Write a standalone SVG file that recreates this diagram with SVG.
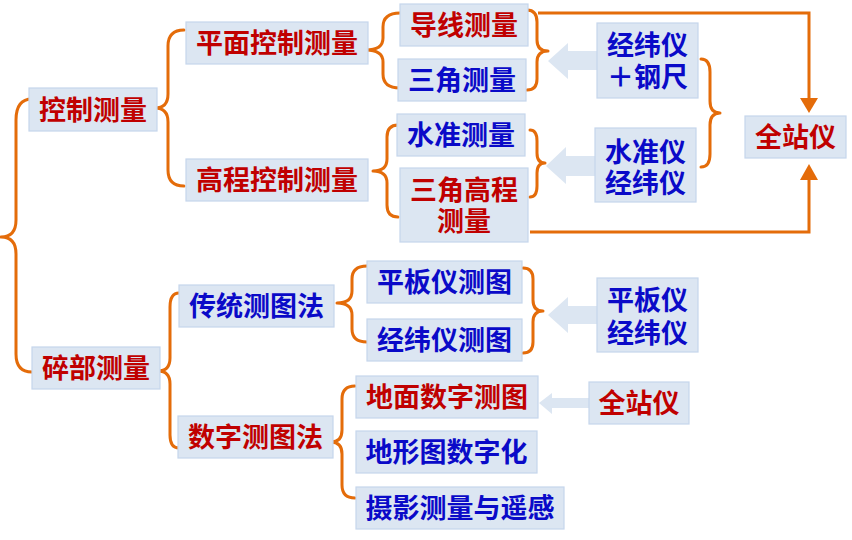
<svg xmlns="http://www.w3.org/2000/svg" width="852" height="540" viewBox="0 0 852 540">
<style>
.box{fill:#dce6f2;stroke:#c5d6ec;stroke-width:1.2}
text{font-family:"Noto Sans CJK SC","Noto Sans",sans-serif;font-weight:700;font-size:27px;text-anchor:middle}
.r{fill:#c00000}
.b{fill:#0a0ac8}
.br{fill:none;stroke:#e46c0a;stroke-width:3;stroke-linejoin:round;stroke-linecap:round}
.ln{fill:none;stroke:#e46c0a;stroke-width:3}
.ah{fill:#e46c0a}
.ba{fill:#dce6f2}
</style>
<g id="connectors">
<path class="br" d="M32,99 Q16,99 16,120 L16,220 Q16,237 1,237 Q16,237 16,254 L16,354 Q16,372 32,372"/>
<path class="br" d="M184,30 Q168,30 168,46 L168,94 Q168,108 155,108 Q168,108 168,122 L168,170 Q168,186 184,186"/>
<path class="br" d="M400,13 Q383,13 383,27 L383,38 Q383,50 366,50 Q383,50 383,62 L383,74 Q383,88 400,88"/>
<path class="br" d="M398,125 Q387,125 387,137 L387,159 Q387,171 373,171 Q387,171 387,183 L387,205 Q387,217 398,217"/>
<path class="br" d="M179,293 Q170,293 170,307 L170,358 Q170,371 158,371 Q170,371 170,384 L170,435 Q170,448 179,448"/>
<path class="br" d="M367,266 Q352,266 352,279 L352,291 Q352,303 337,303 Q352,303 352,315 L352,329 Q352,342 367,342"/>
<path class="br" d="M355,386 Q342,386 342,399 L342,430 Q342,442 331,442 Q342,442 342,454 L342,485 Q342,498 355,498"/>
<path class="br" d="M527,10 Q537,10 537,22 L537,40 Q537,51 548,51 Q537,51 537,62 L537,79 Q537,90 527,90"/>
<path class="br" d="M530,130 Q537,130 537,141 L537,153 Q537,163 545,163 Q537,163 537,173 L537,186 Q537,197 530,197"/>
<path class="br" d="M701,59 Q710,59 710,72 L710,101 Q710,113 720,113 Q710,113 710,125 L710,154 Q710,167 701,167"/>
<path class="br" d="M523,268 Q533,268 533,279 L533,300 Q533,311 543,311 Q533,311 533,322 L533,342 Q533,353 523,353"/>
<path class="ln" d="M538,13 L809,13 L809,100"/>
<polygon class="ah" points="800,98 818,98 809,113"/>
<path class="ln" d="M530,232 L809,232 L809,177"/>
<polygon class="ah" points="800,180 818,180 809,164"/>
<polygon class="ba" points="598,51 568,51 568,43 548,61 568,79 568,70 598,70"/>
<polygon class="ba" points="596,156 566,156 566,147 546,166 566,184 566,176 596,176"/>
<polygon class="ba" points="598,306 568,306 568,297 548,315 568,333 568,324 598,324"/>
<polygon class="ba" points="590,398 552,398 552,393 539,403 552,414 552,408 590,408"/>
</g>
<g id="n1"><rect class="box" x="29" y="88" width="128" height="43"/><text class="r" x="93" y="119.5">控制测量</text></g>
<g id="n2"><rect class="box" x="186" y="22" width="182" height="42"/><text class="r" x="277" y="53">平面控制测量</text></g>
<g id="n3"><rect class="box" x="186" y="159" width="182" height="42"/><text class="r" x="277" y="190">高程控制测量</text></g>
<g id="n4"><rect class="box" x="400" y="4" width="128" height="42"/><text class="r" x="464" y="35">导线测量</text></g>
<g id="n5"><rect class="box" x="398" y="59" width="128" height="42"/><text class="b" x="462" y="90">三角测量</text></g>
<g id="n6"><rect class="box" x="397" y="114" width="128" height="42"/><text class="b" x="461" y="145">水准测量</text></g>
<g id="n7"><rect class="box" x="400" y="168" width="128" height="74"/><text class="r"><tspan x="464" y="200">三角高程</tspan><tspan x="464" y="231">测量</tspan></text></g>
<g id="n8"><rect class="box" x="597" y="23" width="101" height="75"/><text class="b"><tspan x="647.5" y="54.5">经纬仪</tspan><tspan x="647.5" y="87">＋钢尺</tspan></text></g>
<g id="n9"><rect class="box" x="595" y="128" width="101" height="74"/><text class="b"><tspan x="645.5" y="161.5">水准仪</tspan><tspan x="645.5" y="193">经纬仪</tspan></text></g>
<g id="n10"><rect class="box" x="745" y="116" width="101" height="42"/><text class="r" x="795.5" y="147">全站仪</text></g>
<g id="n11"><rect class="box" x="32" y="347" width="128" height="42"/><text class="r" x="96" y="378">碎部测量</text></g>
<g id="n12"><rect class="box" x="179" y="285" width="155" height="42"/><text class="b" x="256.5" y="316">传统测图法</text></g>
<g id="n13"><rect class="box" x="178" y="416" width="155" height="42"/><text class="r" x="255.5" y="447">数字测图法</text></g>
<g id="n14"><rect class="box" x="367" y="261" width="155" height="42"/><text class="b" x="444.5" y="292">平板仪测图</text></g>
<g id="n15"><rect class="box" x="367" y="319" width="155" height="42"/><text class="b" x="444.5" y="350">经纬仪测图</text></g>
<g id="n16"><rect class="box" x="356" y="376" width="182" height="42"/><text class="r" x="447" y="407">地面数字测图</text></g>
<g id="n17"><rect class="box" x="356" y="431" width="181" height="42"/><text class="b" x="446.5" y="462">地形图数字化</text></g>
<g id="n18"><rect class="box" x="356" y="487" width="208" height="42"/><text class="b" x="460" y="518">摄影测量与遥感</text></g>
<g id="n19"><rect class="box" x="597" y="278" width="101" height="74"/><text class="b"><tspan x="647.5" y="310">平板仪</tspan><tspan x="647.5" y="342.5">经纬仪</tspan></text></g>
<g id="n20"><rect class="box" x="589" y="382" width="100" height="42"/><text class="r" x="639" y="413">全站仪</text></g>
</svg>
